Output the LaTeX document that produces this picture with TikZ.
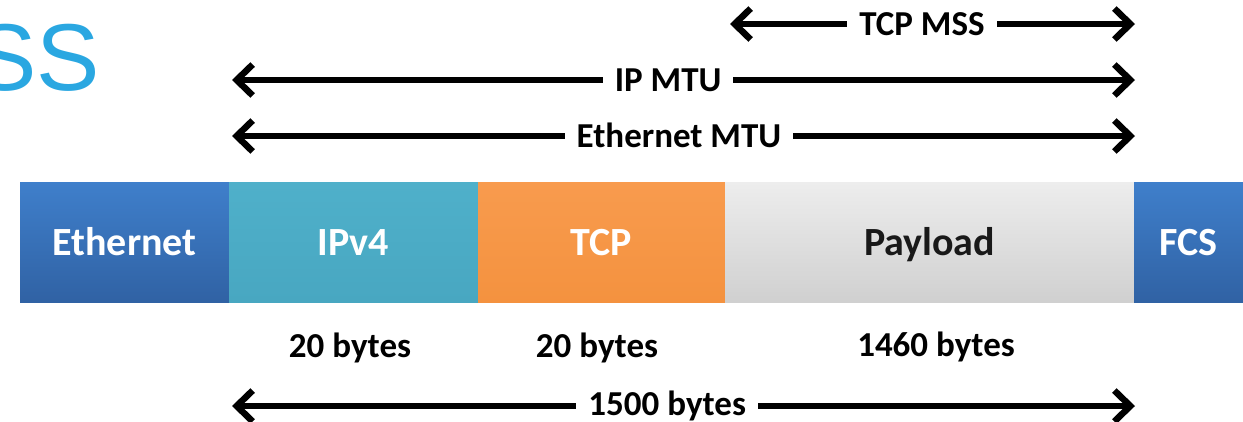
\documentclass[tikz,border=0pt]{standalone}
\usepackage{fontspec}
\setmainfont{Carlito}
\newfontfamily\headfont{Liberation Sans}
\usetikzlibrary{arrows.meta,positioning}

\definecolor{ethtop}{HTML}{3F7FCB}
\definecolor{ethbot}{HTML}{3062A4}
\definecolor{iptop}{HTML}{4FB0CA}
\definecolor{ipbot}{HTML}{48A7C1}
\definecolor{tcptop}{HTML}{F89B4E}
\definecolor{tcpbot}{HTML}{F4923F}
\definecolor{paytop}{HTML}{EDEDED}
\definecolor{paybot}{HTML}{D0D0D0}
\definecolor{headblue}{HTML}{2AA7E1}

\tikzset{
  seg/.style={inner sep=0pt, outer sep=0pt, minimum height=120pt, text height=26pt, text depth=0pt,
              font=\bfseries\fontsize{40}{40}\selectfont, text=white},
  span/.style={line width=6.5pt, {Straight Barb[length=16pt,width=31pt]}-{Straight Barb[length=16pt,width=31pt]}},
  spanlbl/.style={fill=white, inner xsep=12pt, inner ysep=3pt, text height=23pt, text depth=0pt,
                  font=\bfseries\fontsize{35}{35}\selectfont},
  sizelbl/.style={anchor=base, inner sep=0pt, font=\bfseries\fontsize{35}{35}\selectfont}
}

\begin{document}
\begin{tikzpicture}[x=1pt, y=-1pt]
  \useasboundingbox (0,0) rectangle (1243,421);

  \node[anchor=base east, inner sep=0pt, text=headblue, font=\headfont\fontsize{95}{95}\selectfont] (head) at (100,90) {SS};

  \node[seg, anchor=north west, minimum width=209pt, top color=ethtop, bottom color=ethbot] (eth) at (20,182) {Ethernet};
  \node[seg, right=0pt of eth, minimum width=249pt, top color=iptop, bottom color=ipbot] (ip) {IPv4};
  \node[seg, right=0pt of ip, minimum width=247pt, top color=tcptop, bottom color=tcpbot] (tcp) {TCP};
  \node[seg, right=0pt of tcp, minimum width=409pt, top color=paytop, bottom color=paybot, text=black!90] (pay) {Payload};
  \node[seg, right=0pt of pay, minimum width=109pt, top color=ethtop, bottom color=ethbot] (fcs) {FCS};

  \coordinate (mssL) at (730,24);  \coordinate (mssR) at (1135,24);
  \coordinate (ipL)  at (232,80);  \coordinate (ipR)  at (1135,80);
  \coordinate (ethL) at (232,136); \coordinate (ethR) at (1135,136);
  \coordinate (totL) at (232,406); \coordinate (totR) at (1135,406);

  \draw[span] (mssL) -- (mssR) node[spanlbl, pos=0.474] (msslbl) {TCP MSS};
  \draw[span] (ipL) -- (ipR) node[spanlbl, pos=0.483] (iplbl) {IP MTU};
  \draw[span] (ethL) -- (ethR) node[spanlbl, pos=0.495] (ethlbl) {Ethernet MTU};
  \draw[span] (totL) -- (totR) node[spanlbl, pos=0.482, yshift=2pt] (totlbl) {1500 bytes};

  \node[sizelbl] (ipsz) at (350,357) {20 bytes};
  \node[sizelbl] (tcpsz) at (597,357) {20 bytes};
  \node[sizelbl] (paysz) at (936,356) {1460 bytes};
\end{tikzpicture}
\end{document}
